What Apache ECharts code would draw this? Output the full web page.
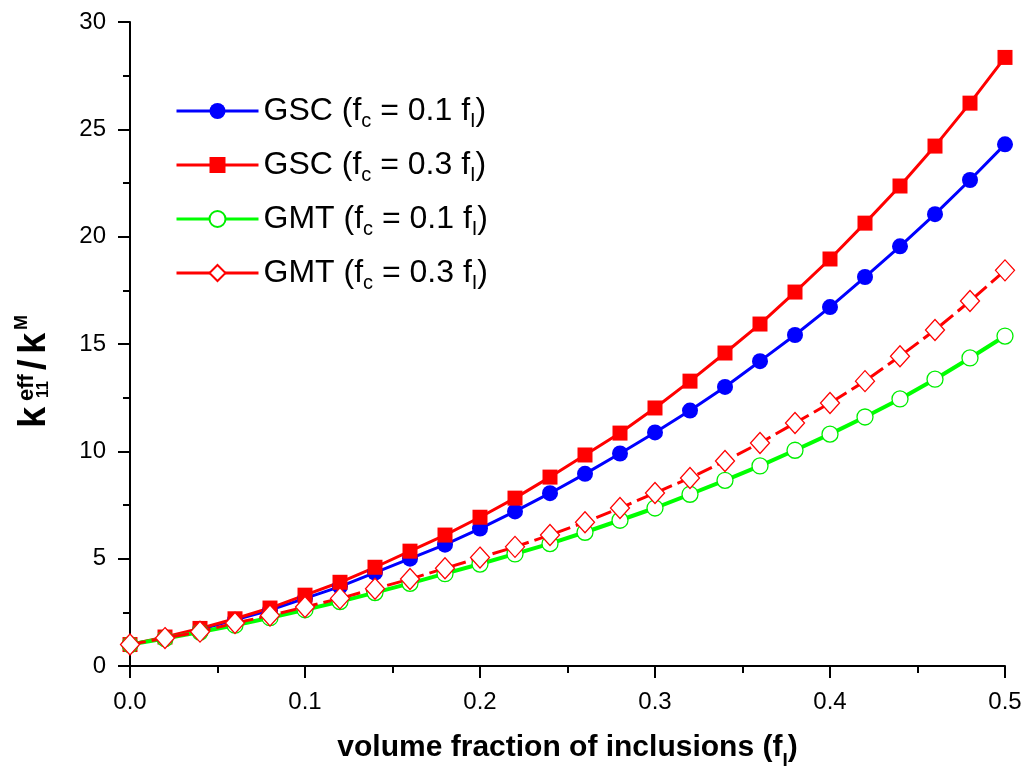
<!DOCTYPE html>
<html><head><meta charset="utf-8">
<script src="https://cdn.jsdelivr.net/npm/echarts@6/dist/echarts.min.js"></script>
<style>html,body{margin:0;padding:0;background:#fff}#c{width:1027px;height:779px}</style>
</head><body><div id="c"></div>
<script>
const xValues = [0,0.02,0.04,0.06,0.08,0.10,0.12,0.14,0.16,0.18,0.20,0.22,0.24,0.26,0.28,0.30,0.32,0.34,0.36,0.38,0.40,0.42,0.44,0.46,0.48,0.50];
const gsc01 = [1.0,1.3,1.7,2.15,2.6,3.15,3.7,4.35,5.0,5.65,6.4,7.2,8.05,8.95,9.9,10.88,11.9,13.0,14.2,15.42,16.72,18.12,19.55,21.05,22.64,24.3];
const gsc03 = [1.0,1.35,1.75,2.2,2.7,3.3,3.9,4.6,5.35,6.1,6.93,7.82,8.8,9.83,10.85,12.02,13.27,14.58,15.93,17.42,18.96,20.63,22.36,24.22,26.22,28.35];
const gmt01 = [1.0,1.28,1.58,1.9,2.25,2.62,3.0,3.42,3.85,4.3,4.75,5.22,5.7,6.23,6.79,7.36,8.0,8.65,9.32,10.05,10.8,11.6,12.44,13.36,14.35,15.37];
const gmt03 = [1.0,1.3,1.6,2.0,2.35,2.75,3.15,3.6,4.05,4.55,5.05,5.55,6.1,6.7,7.36,8.06,8.76,9.55,10.39,11.32,12.25,13.27,14.43,15.65,17.0,18.43];
const seriesNames = ['GSC (fc = 0.1 fI)','GSC (fc = 0.3 fI)','GMT (fc = 0.1 fI)','GMT (fc = 0.3 fI)'];
const legendRich = {
  'GSC (fc = 0.1 fI)': 'GSC (f{s|c} = 0.1 f{s|I})',
  'GSC (fc = 0.3 fI)': 'GSC (f{s|c} = 0.3 f{s|I})',
  'GMT (fc = 0.1 fI)': 'GMT (f{s|c} = 0.1 f{s|I})',
  'GMT (fc = 0.3 fI)': 'GMT (f{s|c} = 0.3 f{s|I})'
};
const xTicks = [0,0.1,0.2,0.3,0.4,0.5];

const pairs = a => xValues.map((x,i)=>[x,a[i]]);
const font = 'Liberation Sans, Arial, sans-serif';
// y-axis title pieces: k^eff_11 / k^M (drawn rotated, superscript and subscript stacked)
const yTitleParts = [
  {t:'k',   x:0,  y:-12, fs:38},
  {t:'eff', x:27, y:-20, fs:22},
  {t:'11',  x:30, y:-3,  fs:16},
  {t:'/',   x:58, y:-12, fs:38},
  {t:'k',   x:74, y:-12, fs:38},
  {t:'M',   x:98, y:-25, fs:18}
];
const chart = echarts.init(document.getElementById('c'), null, {renderer:'canvas'});
chart.setOption({
  animation:false,
  backgroundColor:'#fff',
  grid:{left:130,right:22,top:22,bottom:113,containLabel:false},
  graphic:[{
    type:'group', x:47, y:428, rotation:Math.PI/2,
    children: yTitleParts.map(p=>({type:'text', x:p.x, y:p.y,
      style:{text:p.t, fill:'#000', fontFamily:font, fontWeight:'bold', fontSize:p.fs,
        align:'left', verticalAlign:'middle'}}))
  }],
  legend:{
    orient:'vertical', left:170, top:86, itemWidth:82, itemHeight:20, itemGap:14,
    data:seriesNames,
    formatter: n => legendRich[n],
    lineStyle:{width:3, type:'solid'},
    textStyle:{color:'#000', fontFamily:font, fontSize:32, lineHeight:40,
      rich:{s:{fontSize:20, fontFamily:font, color:'#000', verticalAlign:'bottom', lineHeight:40}}}
  },
  xAxis:{
    type:'value', min:0, max:0.5, interval:0.1,
    name:'volume fraction of inclusions (f{s|I})', nameLocation:'middle', nameGap:60,
    nameTextStyle:{color:'#000', fontFamily:font, fontWeight:'bold', fontSize:30,
      rich:{s:{fontSize:19, fontWeight:'bold', fontFamily:font, verticalAlign:'bottom', lineHeight:44}}},
    axisLine:{show:true, onZero:false, lineStyle:{color:'#000', width:2}},
    axisTick:{show:true, inside:false, length:12, lineStyle:{color:'#000', width:2}},
    minorTick:{show:true, splitNumber:2, length:7, lineStyle:{color:'#000', width:2}},
    splitLine:{show:false},
    axisLabel:{color:'#000', fontFamily:font, fontSize:24, margin:24,
      formatter: v => v.toFixed(1)}
  },
  yAxis:{
    type:'value', min:0, max:30, interval:5,
    axisLine:{show:true, onZero:false, lineStyle:{color:'#000', width:2}},
    axisTick:{show:true, inside:false, length:12, lineStyle:{color:'#000', width:2}},
    minorTick:{show:true, splitNumber:2, length:7, lineStyle:{color:'#000', width:2}},
    splitLine:{show:false},
    axisLabel:{color:'#000', fontFamily:font, fontSize:24, margin:24}
  },
  series:[
    {name:seriesNames[0], type:'line', data:pairs(gsc01), symbol:'circle', symbolSize:16,
      lineStyle:{color:'#0000ff', width:3}, itemStyle:{color:'#0000ff', borderWidth:0}},
    {name:seriesNames[1], type:'line', data:pairs(gsc03), symbol:'rect', symbolSize:15,
      lineStyle:{color:'#ff0000', width:3}, itemStyle:{color:'#ff0000', borderWidth:0}},
    {name:seriesNames[2], type:'line', data:pairs(gmt01), symbol:'circle', symbolSize:16,
      lineStyle:{color:'#00ff00', width:4}, itemStyle:{color:'#fff', borderColor:'#00ee00', borderWidth:1.3}},
    {name:seriesNames[3], type:'line', data:pairs(gmt03), symbol:'diamond', symbolSize:[19,21],
      lineStyle:{color:'#ff0000', width:3, type:[16,6]}, itemStyle:{color:'#fff', borderColor:'#ff0000', borderWidth:1.3}}
  ]
});
</script></body></html>
